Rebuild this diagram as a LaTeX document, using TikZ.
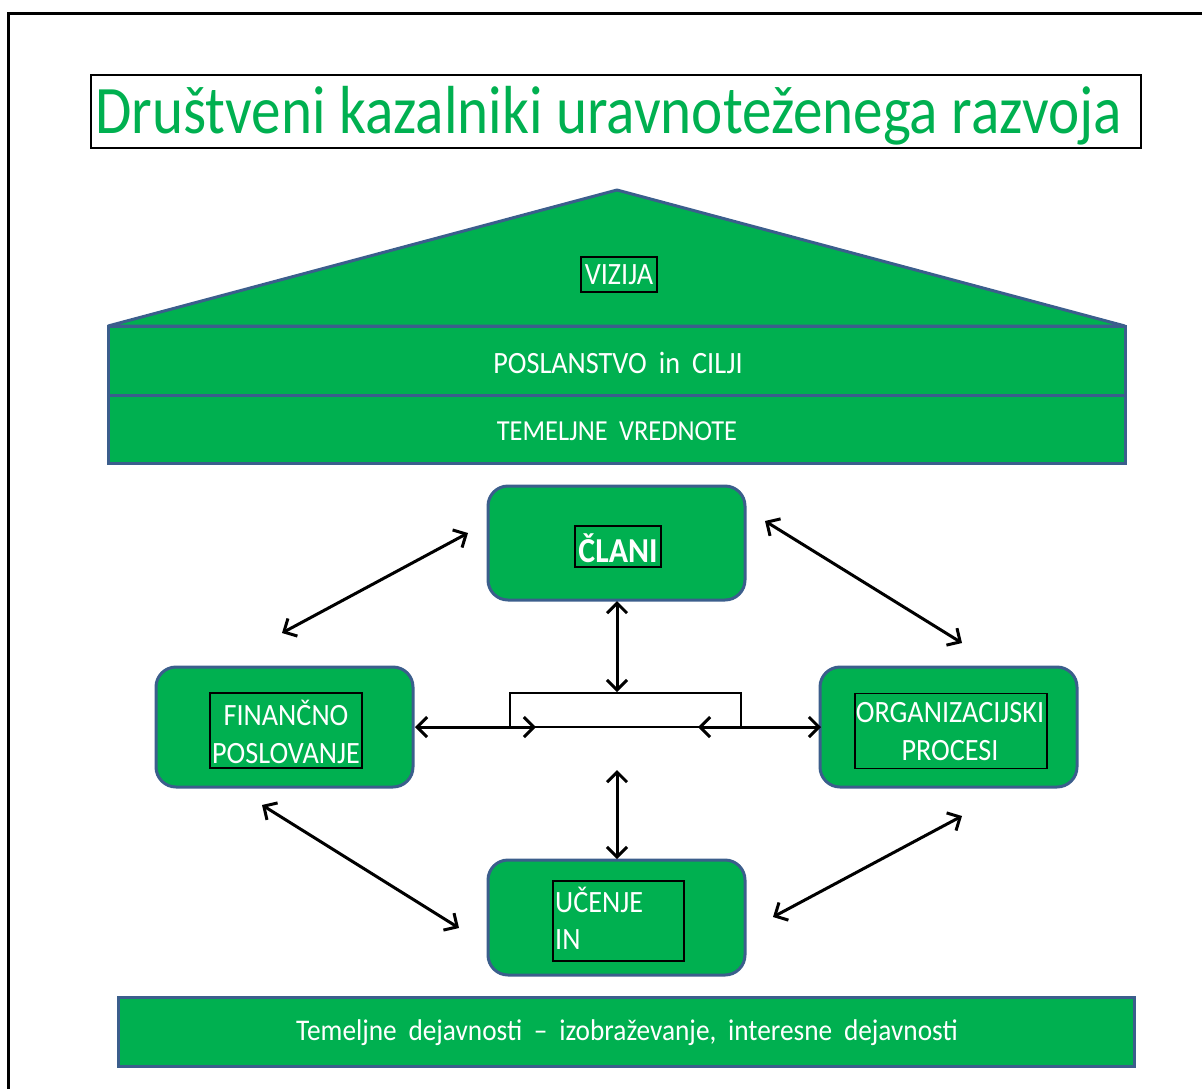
\documentclass[tikz,border=0pt]{standalone}
\usepackage{fontspec}
\setmainfont{Carlito}[FakeStretch=0.91, WordSpace=1.9]
\newfontfamily\titlefont{Carlito}[FakeStretch=0.87]
\usetikzlibrary{arrows.meta}
\definecolor{grn}{HTML}{00B050}
\definecolor{bdr}{HTML}{3B5E8C}
\tikzset{
  rbox/.style={draw=bdr, fill=grn, line width=3pt, rounded corners=20pt, inner sep=0pt},
  tbox/.style={draw=black, line width=1.5pt, inner sep=0pt},
  wtxt/.style={text=white, inner sep=0pt, font=\fontsize{31}{38}\selectfont},
  band/.style={draw=bdr, fill=grn, line width=3pt},
  arr/.style={{Straight Barb[length=10pt,width=20pt]}-{Straight Barb[length=10pt,width=20pt]}, line width=3pt, black},
}
\begin{document}
\begin{tikzpicture}[x=1pt,y=-1pt]
\useasboundingbox (0,0) rectangle (1202,1088);
% outer frame
\draw[line width=3pt] (8.5,1090) -- (8.5,13.5) -- (1204,13.5);
% title
\node[tbox, minimum width=1050pt, minimum height=73pt] (titlebox) at (616,111.5) {};
\node[anchor=base west, inner sep=0pt, text=grn, font=\titlefont\fontsize{68}{70}\selectfont] (title) at (95,133)
  {\makebox[1027pt][s]{Društveni kazalniki uravnoteženega razvoja}};
% house
\filldraw[band, line join=bevel] (108,326) -- (617,190) -- (1125,326) -- cycle;
\filldraw[band] (108,326) rectangle (1125,395);
\filldraw[band] (108,395) rectangle (1125,463);
\node[tbox, minimum width=76pt, minimum height=35pt] (vizbox) at (619,274.5) {};
\node[wtxt] (vizija) at (619,275) {VIZIJA};
\node[wtxt] (poslanstvo) at (618,363) {POSLANSTVO in CILJI};
\node[wtxt, font=\fontsize{29}{34}\selectfont] (temeljne) at (617,431) {TEMELJNE VREDNOTE};
% rounded boxes
\node[rbox, minimum width=257pt, minimum height=114pt] (clani) at (616.5,543) {};
\node[rbox, minimum width=257pt, minimum height=120pt] (fin) at (284.5,727) {};
\node[rbox, minimum width=257pt, minimum height=120pt] (org) at (948.5,727) {};
\node[rbox, minimum width=257pt, minimum height=115pt] (ucenje) at (616.5,917.5) {};
% inner text boxes
\node[tbox, minimum width=86pt, minimum height=41pt] (clanibox) at (618,546.5) {};
\node[wtxt, font=\bfseries\fontsize{35}{40}\selectfont] (clanitxt) at (618,548) {ČLANI};
\node[tbox, minimum width=152pt, minimum height=75pt] (finbox) at (286,730.5) {};
\node[wtxt, align=center] (fintxt) at (286,732) {FINANČNO\\POSLOVANJE};
\node[tbox, minimum width=192pt, minimum height=75pt] (orgbox) at (951,731) {};
\node[wtxt, align=center] (orgtxt) at (950,732) {ORGANIZACIJSKI\\PROCESI};
\node[tbox, minimum width=131pt, minimum height=80pt] (ucbox) at (618.5,921) {};
\node[wtxt, anchor=base west] (uc1) at (555,912) {UČENJE};
\node[wtxt, anchor=base west] (uc2) at (555,949) {IN};
% central white box
\node[draw=black, fill=white, line width=1.2pt, minimum width=231pt, minimum height=34pt, inner sep=0pt] (center) at (625.5,710) {};
% bottom band
\node[band, minimum width=1016pt, minimum height=69pt, inner sep=0pt] (bottom) at (626,1031.5) {};
\node[wtxt, font=\fontsize{30}{34}\selectfont] (bottomtxt) at (627,1033) {Temeljne dejavnosti – izobraževanje, interesne dejavnosti};
% arrow end points
\coordinate (a1s) at (468,533); \coordinate (a1e) at (282,633);
\coordinate (a2s) at (765,521); \coordinate (a2e) at (962,643);
\coordinate (a3s) at (617,601); \coordinate (a3e) at (617,692);
\coordinate (a4s) at (617,770); \coordinate (a4e) at (617,859);
\coordinate (a5s) at (415,727); \coordinate (a5e) at (536,727);
\coordinate (a6s) at (698,727); \coordinate (a6e) at (821,727);
\coordinate (a7s) at (262,805); \coordinate (a7e) at (459,928);
\coordinate (a8s) at (962,816); \coordinate (a8e) at (773,917);
\draw[arr] (a1s) -- (a1e);
\draw[arr] (a2s) -- (a2e);
\draw[arr] (a3s) -- (a3e);
\draw[arr] (a4s) -- (a4e);
\draw[arr] (a5s) -- (a5e);
\draw[arr] (a6s) -- (a6e);
\draw[arr] (a7s) -- (a7e);
\draw[arr] (a8s) -- (a8e);
\end{tikzpicture}
\end{document}
